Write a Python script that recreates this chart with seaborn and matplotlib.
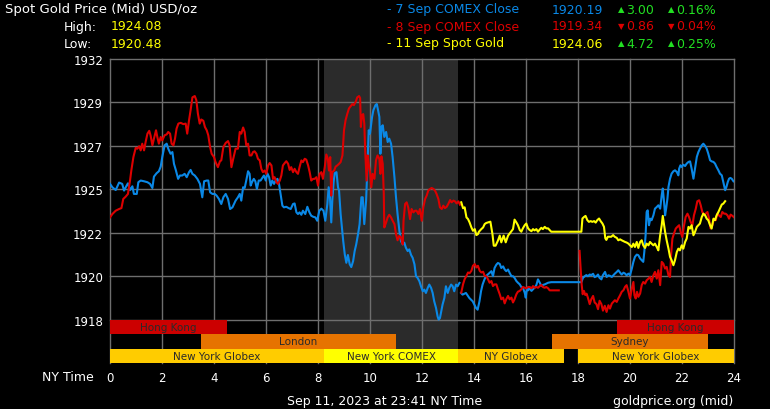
import pandas as pd
import numpy as np
import matplotlib
matplotlib.use('Agg')
import matplotlib.pyplot as plt
import seaborn as sns

# ---- data (hours in NY time, USD/oz) ----
blue1_hours = [0.00, 0.09, 0.22, 0.35, 0.47, 0.54, 0.64, 0.69, 0.77, 0.86, 0.92, 1.03, 1.09, 1.18, 1.31, 1.44,
               1.54, 1.63, 1.69, 1.79, 1.88, 1.95, 2.01, 2.10, 2.18, 2.24, 2.33, 2.40, 2.46, 2.53, 2.62, 2.69,
               2.78, 2.87, 2.95, 3.04, 3.10, 3.17, 3.26, 3.36, 3.46, 3.55, 3.62, 3.72, 3.78, 3.85, 3.94, 4.03,
               4.10, 4.19, 4.28, 4.36, 4.45, 4.54, 4.62, 4.71, 4.83, 4.92, 4.99, 5.05, 5.12, 5.18, 5.24, 5.31,
               5.37, 5.41, 5.46, 5.53, 5.59, 5.65, 5.72, 5.79, 5.86, 5.92, 5.99, 6.05, 6.12, 6.18, 6.24, 6.31,
               6.37, 6.44, 6.50, 6.56, 6.63, 6.69, 6.78, 6.87, 6.95, 7.04, 7.10, 7.17, 7.23, 7.29, 7.36, 7.42,
               7.51, 7.59, 7.67, 7.74, 7.82, 7.90, 7.97, 8.05, 8.13, 8.21, 8.28, 8.36, 8.41, 8.46, 8.51, 8.55,
               8.60, 8.64, 8.71, 8.77, 8.81, 8.87, 8.92, 8.97, 9.03, 9.09, 9.15, 9.22, 9.28, 9.35, 9.41, 9.47,
               9.54, 9.60, 9.67, 9.72, 9.78, 9.85, 9.90, 9.95, 10.00, 10.08, 10.13, 10.21, 10.26, 10.31, 10.36,
               10.40, 10.44, 10.49, 10.55, 10.62, 10.68, 10.74, 10.81, 10.87, 10.94, 11.00, 11.06, 11.13, 11.19,
               11.26, 11.32, 11.38, 11.45, 11.51, 11.58, 11.64, 11.71, 11.77, 11.83, 11.90, 11.96, 12.03, 12.09,
               12.15, 12.22, 12.28, 12.35, 12.41, 12.47, 12.54, 12.60, 12.64, 12.69, 12.74, 12.79, 12.86, 12.92,
               12.99, 13.05, 13.12, 13.18, 13.24, 13.31, 13.37, 13.44]
blue1_prices = [1925.29, 1925.11, 1924.96, 1925.36, 1925.29, 1924.93, 1925.20, 1925.32, 1924.96, 1925.16, 1924.75,
                1924.75, 1925.38, 1925.47, 1925.43, 1925.38, 1925.29, 1925.07, 1925.68, 1925.86, 1925.97, 1926.22,
                1926.73, 1927.36, 1927.45, 1927.18, 1926.91, 1927.00, 1926.37, 1926.04, 1925.56, 1925.74, 1925.74,
                1925.83, 1925.65, 1925.92, 1926.04, 1925.83, 1925.74, 1925.56, 1925.29, 1924.57, 1925.43, 1925.47,
                1925.47, 1924.84, 1924.75, 1924.75, 1924.66, 1924.48, 1924.21, 1924.57, 1924.75, 1924.48, 1923.94,
                1924.03, 1924.39, 1924.57, 1924.75, 1924.39, 1925.11, 1925.07, 1925.47, 1925.97, 1925.83, 1925.20,
                1925.38, 1925.56, 1925.43, 1925.02, 1925.47, 1925.47, 1925.61, 1925.74, 1925.47, 1925.86, 1925.65,
                1925.20, 1925.47, 1925.29, 1925.47, 1925.56, 1925.29, 1924.75, 1924.12, 1924.03, 1924.06, 1923.99,
                1923.94, 1924.21, 1924.24, 1923.76, 1923.67, 1923.76, 1923.63, 1923.85, 1923.67, 1924.06, 1923.76,
                1923.58, 1923.52, 1923.49, 1923.31, 1923.85, 1923.96, 1923.85, 1923.31, 1924.21, 1925.11, 1924.57,
                1923.22, 1924.39, 1925.38, 1925.86, 1925.92, 1925.11, 1924.93, 1923.67, 1922.95, 1922.22, 1921.50,
                1921.05, 1921.47, 1920.97, 1920.82, 1921.14, 1921.68, 1922.04, 1922.59, 1923.13, 1924.57, 1924.57,
                1923.13, 1924.39, 1926.19, 1928.17, 1927.99, 1928.89, 1929.25, 1929.52, 1929.58, 1929.25, 1928.89,
                1926.91, 1928.35, 1928.44, 1927.81, 1928.08, 1927.54, 1927.72, 1927.45, 1926.73, 1925.65, 1924.57,
                1923.67, 1922.77, 1922.22, 1922.04, 1922.13, 1921.86, 1921.68, 1921.77, 1921.47, 1921.32, 1920.97,
                1920.33, 1920.24, 1920.06, 1919.79, 1919.52, 1919.61, 1919.43, 1919.70, 1919.88, 1919.70, 1919.43,
                1918.98, 1918.62, 1918.17, 1918.00, 1918.08, 1918.44, 1918.80, 1919.16, 1919.79, 1919.43, 1919.70,
                1919.88, 1919.79, 1919.52, 1919.88, 1919.79, 1919.97]

blue2_hours = [13.50, 13.56, 13.69, 13.82, 13.95, 14.08, 14.14, 14.21, 14.27, 14.33, 14.40, 14.46, 14.53, 14.67,
               14.73, 14.79, 14.86, 14.92, 14.99, 15.05, 15.12, 15.18, 15.24, 15.31, 15.37, 15.44, 15.50, 15.56,
               15.63, 15.69, 15.76, 15.82, 15.88, 15.95, 15.99, 16.04, 16.08, 16.14, 16.21, 16.27, 16.33, 16.40,
               16.46, 16.53, 16.59, 16.65, 16.72, 16.78, 16.85, 16.97, 18.13, 18.19, 18.26, 18.32, 18.38, 18.45,
               18.51, 18.58, 18.64, 18.71, 18.77, 18.83, 18.90, 18.96, 19.04, 19.10, 19.17, 19.23, 19.30, 19.36,
               19.42, 19.49, 19.55, 19.62, 19.68, 19.75, 19.81, 19.87, 19.94, 20.00, 20.07, 20.13, 20.19, 20.26,
               20.32, 20.39, 20.45, 20.51, 20.55, 20.60, 20.64, 20.68, 20.73, 20.78, 20.83, 20.90, 20.96, 21.03,
               21.09, 21.16, 21.22, 21.26, 21.31, 21.35, 21.39, 21.44, 21.48, 21.54, 21.60, 21.67, 21.73, 21.80,
               21.86, 21.89, 21.94, 21.99, 22.05, 22.12, 22.18, 22.25, 22.31, 22.37, 22.44, 22.50, 22.57, 22.63,
               22.69, 22.76, 22.82, 22.89, 22.95, 23.01, 23.08, 23.14, 23.21, 23.27, 23.33, 23.40, 23.46, 23.53,
               23.59, 23.66, 23.71, 23.76, 23.81, 23.86, 23.91, 23.98]
blue2_prices = [1919.43, 1919.34, 1919.43, 1919.16, 1918.98, 1918.62, 1918.53, 1918.98, 1919.52, 1919.88, 1920.15,
                1920.33, 1920.42, 1920.60, 1920.33, 1920.77, 1920.95, 1921.04, 1920.99, 1920.77, 1920.86, 1920.69,
                1920.60, 1920.69, 1920.51, 1920.33, 1920.33, 1920.24, 1920.07, 1919.98, 1919.89, 1919.75, 1919.71,
                1919.45, 1919.18, 1919.71, 1919.57, 1919.68, 1919.54, 1919.63, 1919.71, 1919.86, 1920.16, 1919.98,
                1919.80, 1919.86, 1919.89, 1919.93, 1919.98, 1920.01, 1920.01, 1920.24, 1920.33, 1920.39, 1920.33,
                1920.42, 1920.39, 1920.46, 1920.28, 1920.33, 1920.42, 1920.24, 1920.16, 1920.39, 1920.56, 1920.29,
                1920.38, 1920.35, 1920.29, 1920.38, 1920.47, 1920.56, 1920.65, 1920.52, 1920.42, 1920.52, 1920.47,
                1920.38, 1920.47, 1920.38, 1920.74, 1921.10, 1921.37, 1921.49, 1921.46, 1921.28, 1921.19, 1921.10,
                1921.63, 1922.53, 1923.78, 1923.87, 1923.07, 1923.42, 1923.34, 1923.60, 1923.96, 1924.05, 1924.14,
                1923.96, 1924.68, 1925.04, 1924.32, 1923.60, 1923.96, 1924.50, 1925.13, 1925.57, 1925.84, 1925.97,
                1926.02, 1925.93, 1925.75, 1926.11, 1926.29, 1926.20, 1926.32, 1926.25, 1926.38, 1926.47, 1926.50,
                1926.11, 1925.57, 1926.11, 1926.74, 1927.00, 1927.18, 1927.36, 1927.45, 1927.33, 1927.18, 1926.92,
                1926.56, 1926.50, 1926.47, 1926.38, 1926.20, 1926.02, 1925.84, 1925.75, 1925.39, 1924.95, 1925.13,
                1925.39, 1925.57, 1925.61, 1925.57, 1925.43]

red1_hours = [0.00, 0.09, 0.22, 0.35, 0.44, 0.51, 0.60, 0.69, 0.77, 0.82, 0.90, 0.99, 1.05, 1.12, 1.18, 1.24,
              1.31, 1.37, 1.44, 1.51, 1.56, 1.63, 1.69, 1.77, 1.82, 1.88, 1.95, 2.01, 2.10, 2.18, 2.24, 2.31,
              2.37, 2.44, 2.50, 2.56, 2.63, 2.72, 2.82, 2.91, 2.97, 3.04, 3.10, 3.17, 3.26, 3.32, 3.38, 3.45,
              3.51, 3.59, 3.65, 3.72, 3.78, 3.85, 3.91, 4.00, 4.06, 4.15, 4.23, 4.28, 4.36, 4.45, 4.54, 4.60,
              4.67, 4.74, 4.83, 4.92, 4.99, 5.05, 5.12, 5.18, 5.24, 5.31, 5.37, 5.44, 5.50, 5.56, 5.63, 5.69,
              5.76, 5.82, 5.88, 5.95, 6.01, 6.08, 6.14, 6.21, 6.27, 6.33, 6.40, 6.46, 6.53, 6.59, 6.65, 6.72,
              6.78, 6.85, 6.91, 6.97, 7.04, 7.10, 7.17, 7.23, 7.29, 7.36, 7.42, 7.49, 7.55, 7.62, 7.68, 7.74,
              7.81, 7.87, 7.94, 8.00, 8.06, 8.13, 8.19, 8.26, 8.32, 8.38, 8.42, 8.47, 8.51, 8.55, 8.62, 8.68,
              8.74, 8.81, 8.87, 8.94, 9.00, 9.06, 9.13, 9.19, 9.26, 9.32, 9.38, 9.45, 9.51, 9.58, 9.62, 9.65,
              9.69, 9.74, 9.78, 9.82, 9.87, 9.91, 9.95, 10.01, 10.05, 10.10, 10.17, 10.23, 10.29, 10.36, 10.40,
              10.44, 10.49, 10.53, 10.55, 10.62, 10.68, 10.74, 10.81, 10.87, 10.94, 11.00, 11.06, 11.13, 11.19,
              11.26, 11.29, 11.35, 11.41, 11.47, 11.54, 11.60, 11.67, 11.73, 11.79, 11.86, 11.92, 11.99, 12.05,
              12.12, 12.18, 12.24, 12.31, 12.37, 12.44, 12.50, 12.56, 12.63, 12.69, 12.76, 12.82, 12.88, 12.95,
              13.01, 13.08, 13.14, 13.21, 13.27, 13.33, 13.40, 13.46]
red1_prices = [1923.49, 1923.67, 1923.85, 1923.94, 1923.99, 1924.48, 1924.60, 1924.75, 1925.47, 1926.01, 1926.73,
               1927.23, 1927.18, 1927.31, 1927.09, 1927.45, 1927.09, 1927.54, 1927.99, 1928.14, 1927.90, 1927.36,
               1927.72, 1928.17, 1927.81, 1927.45, 1927.81, 1927.63, 1927.90, 1927.95, 1928.08, 1927.99, 1927.45,
               1927.36, 1927.72, 1928.26, 1928.53, 1928.57, 1928.50, 1928.53, 1927.99, 1928.71, 1929.25, 1929.94,
               1930.01, 1929.79, 1929.07, 1928.53, 1928.75, 1928.68, 1928.35, 1928.17, 1927.90, 1927.27, 1926.91,
               1926.73, 1926.46, 1926.19, 1926.51, 1926.55, 1927.27, 1927.49, 1927.59, 1927.36, 1926.19, 1926.64,
               1927.18, 1927.18, 1928.08, 1927.99, 1928.32, 1928.08, 1927.36, 1927.45, 1926.82, 1926.82, 1927.00,
               1927.04, 1926.91, 1926.64, 1926.55, 1926.10, 1925.92, 1926.01, 1925.83, 1926.28, 1926.41, 1926.28,
               1925.56, 1925.65, 1925.38, 1925.29, 1925.47, 1925.74, 1926.28, 1926.41, 1926.51, 1926.37, 1926.04,
               1926.19, 1925.92, 1926.10, 1925.92, 1925.83, 1926.19, 1926.55, 1926.46, 1926.64, 1926.59, 1926.28,
               1925.92, 1925.47, 1925.56, 1925.56, 1925.65, 1925.20, 1925.83, 1925.92, 1925.56, 1926.19, 1926.87,
               1926.64, 1926.01, 1926.73, 1924.66, 1925.92, 1926.01, 1926.22, 1926.28, 1926.37, 1926.46, 1926.82,
               1928.17, 1928.71, 1929.07, 1929.34, 1929.47, 1929.58, 1929.52, 1929.70, 1929.94, 1930.01, 1929.90,
               1928.35, 1928.98, 1929.04, 1928.53, 1926.91, 1925.47, 1926.82, 1926.37, 1925.83, 1925.11, 1925.83,
               1925.56, 1926.55, 1926.82, 1926.64, 1925.83, 1926.77, 1926.37, 1924.75, 1922.95, 1923.22, 1923.49,
               1923.63, 1923.49, 1923.31, 1923.13, 1922.59, 1922.26, 1922.50, 1922.41, 1922.04, 1923.31, 1924.21,
               1924.30, 1924.03, 1923.40, 1923.94, 1923.76, 1923.85, 1923.85, 1923.67, 1923.94, 1923.31, 1924.03,
               1924.48, 1924.66, 1924.93, 1925.02, 1925.07, 1925.02, 1924.93, 1924.75, 1924.48, 1924.03, 1923.94,
               1924.12, 1923.99, 1924.06, 1924.21, 1924.42, 1924.30, 1924.39, 1924.35, 1924.24, 1924.35, 1924.17]

red2_hours = [13.51, 13.58, 13.64, 13.71, 13.77, 13.83, 13.90, 13.96, 14.03, 14.09, 14.15, 14.22, 14.28, 14.35,
              14.41, 14.47, 14.54, 14.60, 14.67, 14.73, 14.79, 14.86, 14.92, 14.99, 15.05, 15.12, 15.18, 15.24,
              15.31, 15.37, 15.44, 15.50, 15.56, 15.63, 15.69, 15.76, 15.82, 15.88, 15.95, 16.01, 16.08, 16.14,
              16.21, 16.27, 16.33, 16.40, 16.46, 16.53, 16.59, 16.65, 16.72, 16.78, 16.85, 16.91, 16.97, 17.26]
red2_prices = [1919.45, 1919.90, 1920.17, 1920.35, 1920.53, 1920.49, 1920.62, 1920.89, 1920.98, 1920.80, 1920.89,
               1920.62, 1920.53, 1920.57, 1920.35, 1920.33, 1920.16, 1919.98, 1920.07, 1919.80, 1919.89, 1919.89,
               1919.63, 1919.36, 1919.09, 1919.18, 1918.87, 1919.09, 1919.27, 1919.09, 1919.18, 1918.92, 1919.09,
               1919.36, 1919.50, 1919.54, 1919.63, 1919.75, 1919.71, 1919.68, 1919.75, 1919.75, 1919.68, 1919.80,
               1919.71, 1919.75, 1919.71, 1919.80, 1919.86, 1919.75, 1919.71, 1919.75, 1919.68, 1919.57, 1919.57,
               1919.57]

red3_hours = [18.06, 18.10, 18.14, 18.18, 18.23, 18.28, 18.33, 18.38, 18.45, 18.51, 18.58, 18.64, 18.71, 18.77,
              18.83, 18.90, 18.96, 19.03, 19.10, 19.17, 19.23, 19.30, 19.36, 19.42, 19.49, 19.55, 19.62, 19.68,
              19.75, 19.81, 19.87, 19.94, 20.00, 20.07, 20.13, 20.17, 20.22, 20.27, 20.32, 20.39, 20.45, 20.51,
              20.58, 20.64, 20.71, 20.77, 20.83, 20.90, 20.96, 21.03, 21.09, 21.16, 21.22, 21.28, 21.35, 21.41,
              21.48, 21.54, 21.58, 21.63, 21.69, 21.76, 21.82, 21.89, 21.95, 22.01, 22.08, 22.14, 22.21, 22.27,
              22.33, 22.40, 22.46, 22.53, 22.59, 22.66, 22.72, 22.78, 22.85, 22.91, 22.98, 23.04, 23.10, 23.17,
              23.23, 23.30, 23.36, 23.42, 23.49, 23.55, 23.62, 23.68, 23.75, 23.81, 23.87, 23.94, 23.99]
red3_prices = [1921.69, 1920.77, 1919.89, 1919.36, 1919.54, 1919.32, 1919.39, 1919.18, 1918.83, 1919.09, 1919.27,
               1918.92, 1918.83, 1918.56, 1919.01, 1918.83, 1918.48, 1918.74, 1918.41, 1918.77, 1918.59, 1918.86,
               1918.95, 1919.04, 1918.95, 1919.13, 1919.31, 1919.49, 1919.58, 1919.76, 1919.85, 1919.49, 1919.13,
               1919.67, 1920.02, 1919.31, 1919.13, 1919.49, 1919.22, 1919.40, 1919.85, 1920.02, 1919.93, 1920.11,
               1920.20, 1920.29, 1920.02, 1920.38, 1920.56, 1920.20, 1920.65, 1919.85, 1921.10, 1921.01, 1920.74,
               1920.83, 1920.38, 1920.29, 1921.46, 1922.35, 1922.62, 1922.89, 1922.98, 1923.07, 1922.71, 1922.44,
               1923.07, 1923.51, 1923.69, 1923.51, 1923.25, 1923.07, 1923.60, 1923.96, 1924.36, 1924.41, 1924.14,
               1923.78, 1923.60, 1923.69, 1923.78, 1923.42, 1922.89, 1923.07, 1923.42, 1923.34, 1923.69, 1923.60,
               1923.51, 1923.78, 1923.69, 1923.69, 1923.60, 1923.42, 1923.64, 1923.57, 1923.51]

yellow_hours = [13.51, 13.58, 13.64, 13.71, 13.77, 13.83, 13.90, 13.96, 14.03, 14.09, 14.15, 14.19, 14.28, 14.35,
                14.41, 14.47, 14.54, 14.63, 14.71, 14.76, 14.83, 14.92, 14.99, 15.05, 15.14, 15.22, 15.31, 15.40,
                15.50, 15.56, 15.63, 15.69, 15.76, 15.82, 15.88, 15.95, 16.01, 16.08, 16.14, 16.21, 16.27, 16.33,
                16.40, 16.46, 16.53, 16.59, 16.65, 16.72, 16.78, 16.85, 16.91, 16.97, 18.13, 18.17, 18.23, 18.29,
                18.36, 18.42, 18.49, 18.55, 18.62, 18.68, 18.74, 18.81, 18.87, 18.94, 19.00, 19.05, 19.09, 19.15,
                19.22, 19.28, 19.35, 19.41, 19.49, 19.55, 19.62, 19.68, 19.75, 19.81, 19.87, 19.94, 20.00, 20.07,
                20.13, 20.19, 20.26, 20.32, 20.39, 20.45, 20.51, 20.58, 20.64, 20.71, 20.77, 20.83, 20.90, 20.96,
                21.03, 21.09, 21.16, 21.22, 21.26, 21.31, 21.35, 21.41, 21.48, 21.54, 21.60, 21.67, 21.73, 21.80,
                21.86, 21.92, 21.99, 22.05, 22.12, 22.18, 22.25, 22.31, 22.37, 22.44, 22.50, 22.57, 22.63, 22.69,
                22.76, 22.82, 22.89, 22.95, 23.01, 23.08, 23.14, 23.21, 23.27, 23.33, 23.40, 23.46, 23.53, 23.59,
                23.66]
yellow_prices = [1924.30, 1923.98, 1924.03, 1923.49, 1923.40, 1923.22, 1922.95, 1922.77, 1922.86, 1922.54, 1922.59,
                 1922.72, 1922.86, 1922.95, 1923.13, 1923.19, 1923.22, 1923.26, 1922.59, 1921.97, 1921.97, 1922.24,
                 1922.51, 1922.15, 1922.51, 1922.15, 1922.51, 1922.68, 1922.86, 1923.37, 1923.22, 1923.07, 1922.81,
                 1922.72, 1922.90, 1923.07, 1923.16, 1922.90, 1922.81, 1922.75, 1922.86, 1922.79, 1922.86, 1922.72,
                 1922.84, 1922.93, 1922.86, 1922.98, 1922.90, 1922.90, 1922.81, 1922.72, 1922.72, 1923.43, 1923.51,
                 1923.57, 1923.34, 1923.25, 1923.29, 1923.25, 1923.29, 1923.21, 1923.34, 1923.43, 1923.29, 1923.16,
                 1922.98, 1922.37, 1922.28, 1922.45, 1922.45, 1922.45, 1922.54, 1922.45, 1922.39, 1922.26, 1922.31,
                 1922.26, 1922.21, 1922.17, 1922.14, 1922.08, 1921.99, 1921.90, 1922.08, 1921.90, 1922.17, 1921.85,
                 1922.17, 1922.26, 1921.99, 1921.85, 1922.08, 1921.99, 1922.17, 1922.08, 1921.99, 1922.08, 1921.90,
                 1921.72, 1922.53, 1923.07, 1923.57, 1923.07, 1922.71, 1922.26, 1921.81, 1921.37, 1921.19, 1920.92,
                 1921.19, 1921.63, 1921.81, 1921.72, 1921.99, 1921.81, 1922.17, 1922.35, 1922.98, 1922.89, 1923.07,
                 1922.53, 1922.71, 1922.98, 1923.07, 1923.16, 1923.51, 1923.69, 1923.60, 1923.42, 1923.34, 1923.07,
                 1922.89, 1923.42, 1923.34, 1923.60, 1923.78, 1923.96, 1924.18, 1924.23, 1924.36]

# trading sessions shown as bars under the chart
session_names = ['Hong Kong', 'Hong Kong', 'London', 'Sydney',
                 'New York Globex', 'New York COMEX', 'NY Globex', 'New York Globex']
session_start = [0, 19.5, 3.5, 17, 0, 8.22, 13.4, 18]
session_end = [4.5, 24, 11, 23, 8.22, 13.4, 17.45, 24]
session_row = [0, 0, 1, 1, 2, 2, 2, 2]
session_colors = ['#cc0000', '#cc0000', '#e67300', '#e67300', '#ffcc00', '#ffff00', '#ffcc00', '#ffcc00']

y_ticks_labels = ['1918', '1920', '1922', '1925', '1927', '1929', '1932']
x_ticks = list(range(0, 25, 2))

BLUE = '#0a88e6'
RED = '#dd0000'
YELLOW = '#ffff00'
GREEN = '#22e022'

# ---- build long table for seaborn ----
parts = []
for name, hrs, vals in [('blue1', blue1_hours, blue1_prices), ('blue2', blue2_hours, blue2_prices),
                        ('red1', red1_hours, red1_prices), ('red2', red2_hours, red2_prices),
                        ('red3', red3_hours, red3_prices), ('yellow', yellow_hours, yellow_prices)]:
    parts.append(pd.DataFrame({'hour': hrs, 'price': vals, 'segment': name}))
df = pd.concat(parts, ignore_index=True)
palette = {'blue1': BLUE, 'blue2': BLUE, 'red1': RED, 'red2': RED, 'red3': RED, 'yellow': YELLOW}

W, H = 770, 410
fig = plt.figure(figsize=(W / 100, H / 100), dpi=100, facecolor='black')
ax = fig.add_axes([110 / W, 1 - 364 / H, 624 / W, 304 / H])
ax.set_facecolor('black')

step = 7 / 3
y_ticks = [1918 + k * step for k in range(7)]
ymin = 1918 - step
ax.set_xlim(0, 24)
ax.set_ylim(ymin, 1932)

# COMEX shading
ax.axvspan(8.22, 13.37, color='#2b2b2b', zorder=0, lw=0)

# grid
for x in x_ticks:
    ax.axvline(x, color='#6e6e6e', lw=1, zorder=1, clip_on=False)
for y in y_ticks:
    ax.axhline(y, color='#6e6e6e', lw=1, zorder=1, clip_on=False)

# session bars
row_h = step / 3
for name, s, e, r, c in zip(session_names, session_start, session_end, session_row, session_colors):
    yc = 1918 - row_h * (r + 0.5)
    ax.barh(yc, e - s, left=s, height=row_h, color=c, zorder=2, lw=0)
    ax.text((s + e) / 2, yc, name, ha='center', va='center', fontsize=7.5, color='#2a2a2a', zorder=3)

sns.lineplot(data=df, x='hour', y='price', hue='segment', palette=palette, estimator=None,
             sort=False, legend=False, linewidth=1.5, ax=ax, zorder=4)

ax.set_xticks(x_ticks)
ax.set_xticklabels([str(x) for x in x_ticks])
ax.set_yticks(y_ticks)
ax.set_yticklabels(y_ticks_labels)
ax.tick_params(colors='white', length=0, labelsize=8.5)
ax.tick_params(axis='x', pad=5.5)
ax.tick_params(axis='y', pad=5)
ax.set_xlabel('')
ax.set_ylabel('')
for sp in ax.spines.values():
    sp.set_visible(False)


def px(x, y):
    return x / W, 1 - y / H


fs = 9
fig.text(*px(5, 10), 'Spot Gold Price (Mid) USD/oz', color='white', fontsize=9.5, va='center')
fig.text(*px(64, 27), 'High:', color='white', fontsize=fs, va='center')
fig.text(*px(111, 27), '1924.08', color=YELLOW, fontsize=fs, va='center')
fig.text(*px(64, 44), 'Low:', color='white', fontsize=fs, va='center')
fig.text(*px(111, 44), '1920.48', color=YELLOW, fontsize=fs, va='center')

legend_rows = [('- 7 Sep COMEX Close', BLUE, '1920.19', '▲', '3.00', '0.16%', GREEN),
               ('- 8 Sep COMEX Close', RED, '1919.34', '▼', '0.86', '0.04%', RED),
               ('- 11 Sep Spot Gold', YELLOW, '1924.06', '▲', '4.72', '0.25%', GREEN)]
for i, (lab, col, val, arrow, chg, pct, ccol) in enumerate(legend_rows):
    yy = 10 + i * 17
    fig.text(*px(387, yy), lab, color=col, fontsize=fs, va='center')
    fig.text(*px(552, yy), val, color=col, fontsize=fs, va='center')
    fig.text(*px(618, yy), arrow, color=ccol, fontsize=6, va='center')
    fig.text(*px(626, yy), chg, color=ccol, fontsize=fs, va='center')
    fig.text(*px(668, yy), arrow, color=ccol, fontsize=6, va='center')
    fig.text(*px(676, yy), pct, color=ccol, fontsize=fs, va='center')

fig.text(*px(68, 378), 'NY Time', color='white', fontsize=fs, ha='center', va='center')
fig.text(*px(385, 402), 'Sep 11, 2023 at 23:41 NY Time', color='white', fontsize=fs, ha='center', va='center')
fig.text(*px(733, 402), 'goldprice.org (mid)', color='white', fontsize=fs, ha='right', va='center')

fig.savefig('out.png', dpi=100, facecolor='black')
